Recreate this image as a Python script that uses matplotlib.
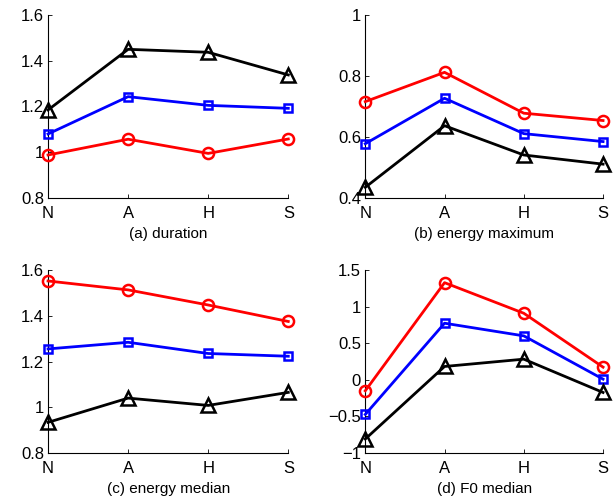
import matplotlib
matplotlib.use('Agg')
import matplotlib.pyplot as plt
from matplotlib.ticker import FuncFormatter

plt.rcParams['font.family'] = ['Liberation Sans', 'DejaVu Sans']

categories = ['N', 'A', 'H', 'S']

# (a) duration
dur_red = [0.988, 1.057, 0.995, 1.058]
dur_blue = [1.080, 1.243, 1.205, 1.192]
dur_black = [1.185, 1.450, 1.437, 1.338]

# (b) energy maximum
emax_red = [0.716, 0.812, 0.678, 0.654]
emax_blue = [0.578, 0.727, 0.611, 0.585]
emax_black = [0.435, 0.637, 0.541, 0.511]

# (c) energy median
emed_red = [1.552, 1.513, 1.447, 1.375]
emed_blue = [1.255, 1.284, 1.235, 1.223]
emed_black = [0.934, 1.040, 1.008, 1.065]

# (d) F0 median
f0_red = [-0.150, 1.327, 0.909, 0.173]
f0_blue = [-0.473, 0.773, 0.600, 0.009]
f0_black = [-0.809, 0.182, 0.282, -0.173]

panels = [
    ('(a) duration', dur_red, dur_blue, dur_black, (0.8, 1.6), [0.8, 1.0, 1.2, 1.4, 1.6]),
    ('(b) energy maximum', emax_red, emax_blue, emax_black, (0.4, 1.0), [0.4, 0.6, 0.8, 1.0]),
    ('(c) energy median', emed_red, emed_blue, emed_black, (0.8, 1.6), [0.8, 1.0, 1.2, 1.4, 1.6]),
    ('(d) F0 median', f0_red, f0_blue, f0_black, (-1, 1.5), [-1, -0.5, 0, 0.5, 1, 1.5]),
]

# axes rectangles in figure fractions
rects = [
    [0.078, 0.604, 0.390, 0.366],
    [0.593, 0.604, 0.386, 0.366],
    [0.078, 0.094, 0.390, 0.366],
    [0.593, 0.094, 0.386, 0.366],
]

fig = plt.figure(figsize=(6.16, 5), dpi=100)

def fmt(v, pos):
    return ('%g' % v).replace('-', '\u2212')

for (label, red, blue, black, ylim, yticks), rect in zip(panels, rects):
    ax = fig.add_axes(rect)
    x = range(len(categories))
    ax.plot(x, red, color='red', lw=2, marker='o', ms=8, mfc='none', mew=1.8, clip_on=False, zorder=3)
    ax.plot(x, blue, color='blue', lw=2, marker='s', ms=6, mfc='none', mew=1.8, clip_on=False, zorder=3)
    ax.plot(x, black, color='black', lw=2, marker='^', ms=10.5, mfc='none', mew=1.8, clip_on=False, zorder=3)

    ax.set_xlim(0, 3)
    ax.set_ylim(*ylim)
    ax.set_xticks(list(x))
    ax.set_xticklabels(categories)
    ax.set_yticks(yticks)
    ax.yaxis.set_major_formatter(FuncFormatter(fmt))
    for s in ['top', 'right']:
        ax.spines[s].set_visible(False)
    ax.spines['left'].set_linewidth(0.8)
    ax.spines['bottom'].set_linewidth(0.8)
    ax.tick_params(direction='in', length=3, width=0.6, labelsize=12)
    ax.tick_params(axis='y', pad=3)
    ax.tick_params(axis='x', pad=6)
    ax.set_xlabel(label, fontsize=11, labelpad=4)

fig.savefig('out.png', dpi=100)
